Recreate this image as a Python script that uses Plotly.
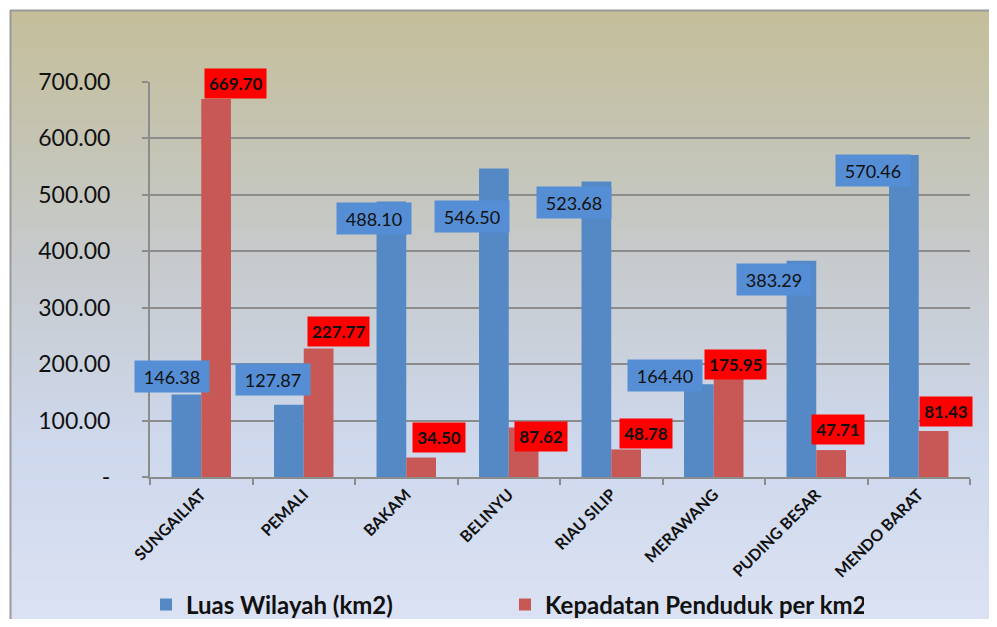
import base64, struct, zlib
import plotly.graph_objects as go

# ---------------- data ----------------
categories = ["SUNGAILIAT", "PEMALI", "BAKAM", "BELINYU", "RIAU SILIP",
              "MERAWANG", "PUDING BESAR", "MENDO BARAT"]
luas_wilayah = [146.38, 127.87, 488.10, 546.50, 523.68, 164.40, 383.29, 570.46]
kepadatan = [669.70, 227.77, 34.50, 87.62, 48.78, 175.95, 47.71, 81.43]
y_tick_vals = [0, 100, 200, 300, 400, 500, 600, 700]
y_tick_text = ["-", "100.00", "200.00", "300.00", "400.00", "500.00", "600.00", "700.00"]
series_names = ["Luas Wilayah (km2)", "Kepadatan Penduduk per km2"]

# ---------------- layout constants ----------------
OFF = 8                      # page body margin
W, H = 997 - 2 * OFF, 627 - 2 * OFF
L, T = 150 - OFF, 82 - OFF
R = W - (970 - OFF)
B = H - (477 - OFF)
PW, PH = W - L - R, H - T - B
FONT = "Lato"


def png_gradient(stops, height=256):
    def lerp(a, b, t):
        return int(round(a + (b - a) * t))
    rows = []
    for i in range(height):
        f = i / (height - 1)
        for j in range(len(stops) - 1):
            p0, c0 = stops[j]
            p1, c1 = stops[j + 1]
            if p0 <= f <= p1:
                t = (f - p0) / (p1 - p0) if p1 > p0 else 0
                rows.append(bytes([0] + [lerp(c0[k], c1[k], t) for k in range(3)]))
                break
    raw = b"".join(rows)

    def chunk(tag, data):
        c = struct.pack(">I", len(data)) + tag + data
        return c + struct.pack(">I", zlib.crc32(tag + data) & 0xffffffff)
    png = b"\x89PNG\r\n\x1a\n" + chunk(b"IHDR", struct.pack(">IIBBBBB", 1, height, 8, 2, 0, 0, 0)) \
        + chunk(b"IDAT", zlib.compress(raw)) + chunk(b"IEND", b"")
    return "data:image/png;base64," + base64.b64encode(png).decode()


bg = png_gradient([(0.0, (196, 190, 153)), (0.4, (198, 202, 204)),
                   (0.7, (206, 216, 236)), (1.0, (219, 226, 243))])


def px_to_paper_x(px):      # px in reference (window) coordinates
    return (px - OFF - L) / PW


def px_to_paper_y(py):
    return (H - B - (py - OFF)) / PH


def px_to_cont_x(px):
    return (px - OFF) / W


def px_to_cont_y(py):
    return 1 - (py - OFF) / H


fig = go.Figure()
fig.add_trace(go.Bar(x=categories, y=luas_wilayah, name="<b>" + series_names[0] + "</b>",
                     marker=dict(color="#5489C6", line=dict(width=0))))
fig.add_trace(go.Bar(x=categories, y=kepadatan, name="<b>" + series_names[1] + "</b>",
                     marker=dict(color="#C85855", line=dict(width=0))))

# label nudges (pixels) to mimic the 3D label placement
blue_dx = [-29, -31, -32, -37, -37, -49, -42, -46]
blue_dy = [18, 25, -17, -48, -21, 9, -19, -15]
red_dx = [34, 35, 33, 32, 35, 22, 22, 27]
red_dy = [16, 17, 20, -9, 16, 13, 21, 20]

annotations = []
for i, c in enumerate(categories):
    annotations.append(dict(x=c, y=luas_wilayah[i], xref="x", yref="y",
                            text=f"{luas_wilayah[i]:.2f}", showarrow=False,
                            xshift=blue_dx[i], yshift=blue_dy[i],
                            bgcolor="#558ED5", width=70, height=27, borderpad=2,
                            font=dict(family=FONT, size=18, color="#111111")))
    t = f"{kepadatan[i]:.2f}"
    annotations.append(dict(x=c, y=kepadatan[i], xref="x", yref="y",
                            text="<b>" + t + "</b>", showarrow=False,
                            xshift=red_dx[i], yshift=red_dy[i],
                            bgcolor="#FF0000", width=len(t) * 9.4 + 1, height=25, borderpad=2,
                            font=dict(family=FONT, size=17, color="#111111")))

fig.update_layout(
    width=W, height=H,
    margin=dict(l=L, r=R, t=T, b=B, autoexpand=False),
    paper_bgcolor="white",
    plot_bgcolor="rgba(0,0,0,0)",
    barmode="group", bargap=0.42, bargroupgap=0.0,
    font=dict(family=FONT, color="#111111"),
    showlegend=True,
    legend=dict(orientation="h", xref="container", yref="container",
                x=px_to_cont_x(146), y=px_to_cont_y(605),
                xanchor="left", yanchor="middle", entrywidth=314, entrywidthmode="pixels",
                font=dict(family=FONT, size=24, color="#111111"),
                bgcolor="rgba(0,0,0,0)", itemsizing="constant", traceorder="normal"),
    images=[dict(source=bg, xref="paper", yref="paper",
                 x=px_to_paper_x(10), y=px_to_paper_y(10),
                 sizex=(997 - 10) / PW, sizey=(627 - 10) / PH,
                 xanchor="left", yanchor="top", sizing="stretch", layer="below")],
    shapes=[
        dict(type="line", xref="paper", yref="paper",
             x0=px_to_paper_x(10), x1=px_to_paper_x(1000), y0=px_to_paper_y(10.5), y1=px_to_paper_y(10.5),
             line=dict(color="#9A9A9A", width=2)),
        dict(type="line", xref="paper", yref="paper",
             x0=px_to_paper_x(10.5), x1=px_to_paper_x(10.5), y0=px_to_paper_y(10), y1=px_to_paper_y(630),
             line=dict(color="#9A9A9A", width=2)),
    ],
    annotations=annotations,
)

fig.update_xaxes(range=[-0.5, len(categories) - 0.5], autorange=False,
                 showgrid=False, showline=True, linecolor="#8C8C8C", linewidth=2, automargin=False,
                 ticks="outside", tickson="boundaries", ticklen=6, tickcolor="#8C8C8C", tickwidth=2,
                 tickangle=-45, tickfont=dict(family=FONT, size=16, color="#111111"),
                 tickprefix="<b>", ticksuffix="</b>")
fig.update_yaxes(range=[0, 700], autorange=False, tickvals=y_tick_vals, ticktext=y_tick_text,
                 automargin=False,
                 showgrid=True, gridcolor="#8C8C8C", gridwidth=2,
                 showline=True, linecolor="#8C8C8C", linewidth=2,
                 ticks="outside", ticklen=6, tickcolor="#8C8C8C", tickwidth=2,
                 zeroline=False, tickfont=dict(family=FONT, size=23, color="#111111"),
                 ticklabelstandoff=27)

fig.write_html("out.html")
